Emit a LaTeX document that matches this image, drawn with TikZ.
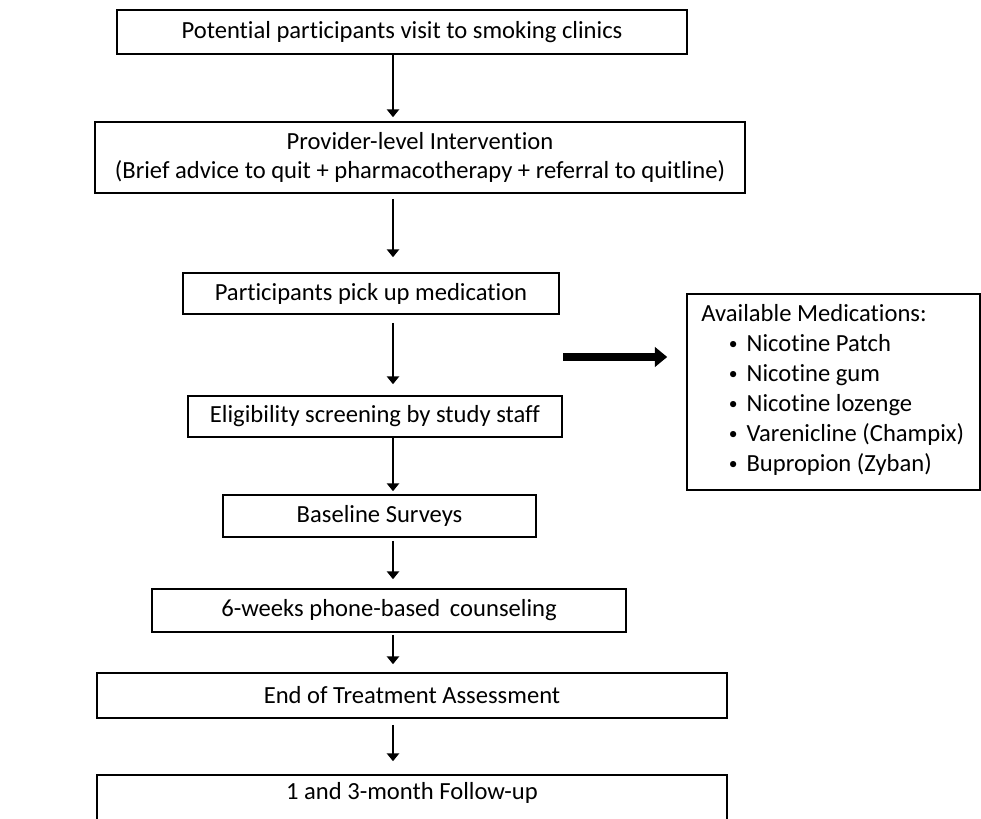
\documentclass[tikz,border=0pt]{standalone}
\usepackage{fontspec}
\setmainfont{Carlito}[Ligatures=NoCommon]
\usetikzlibrary{arrows.meta}

\newcommand{\medbullet}{\hspace*{0.55cm}\raisebox{1.2pt}{\fontsize{10}{10}\selectfont\textbullet}\hspace{0.18cm}}

\begin{document}
\begin{tikzpicture}[font=\fontsize{14}{17}\selectfont,
  stage/.style={rectangle, draw, line width=0.9pt, fill=white, inner sep=0pt, align=center},
  flow/.style={line width=1.7pt, -{Triangle[width=7pt,length=4.5pt]}},
  bigarrow/.style={line width=4.5pt, -{Triangle[width=11pt,length=7pt]}}]

\useasboundingbox (0,0) rectangle (19.62,-16.38);

\node[stage, minimum width=11.4cm, minimum height=0.88cm] (visit) at (8.04,-0.64) {Potential participants visit to smoking clinics};
\node[stage, minimum width=13cm, minimum height=1.42cm] (provider) at (8.4,-3.15) {Provider-level Intervention\\(Brief advice to quit + pharmacotherapy + referral to quitline)};
\node[stage, minimum width=7.52cm, minimum height=0.82cm] (pickup) at (7.42,-5.87) {Participants pick up medication};
\node[stage, minimum width=7.48cm, minimum height=0.82cm] (screen) at (7.5,-8.33) {Eligibility screening by study staff};
\node[stage, minimum width=6.26cm, minimum height=0.84cm] (baseline) at (7.59,-10.32) {Baseline Surveys};
\node[stage, minimum width=9.48cm, minimum height=0.86cm] (counsel) at (7.78,-12.21) {6-weeks phone-based\ \,counseling};
\node[stage, minimum width=12.6cm, minimum height=0.9cm] (eot) at (8.24,-13.91) {End of Treatment Assessment};
\node[stage, minimum width=12.6cm, minimum height=1cm] (follow) at (8.24,-16.0) {};
\node (followtxt) at (8.24,-15.86) {1 and 3-month Follow-up};

% side box with the medication list
\node[stage, minimum width=5.86cm, minimum height=3.92cm] (meds) at (16.67,-7.84) {};
\node[align=left, anchor=west, inner sep=0pt] (medlist) at (14.02,-7.8)
  {Available Medications:\\
   \medbullet Nicotine Patch\\
   \medbullet Nicotine gum\\
   \medbullet Nicotine lozenge\\
   \medbullet Varenicline (Champix)\\
   \medbullet Bupropion (Zyban)};

\coordinate (spine) at (7.86,0);
\coordinate (medsrc) at (11.26,-7.14);

\draw[flow, shorten >=0.08cm] (visit.south -| spine) -- (provider.north -| spine);
\draw[flow, shorten <=0.1cm, shorten >=0.3cm] (provider.south -| spine) -- (pickup.north -| spine);
\draw[flow, shorten <=0.16cm, shorten >=0.22cm] (pickup.south -| spine) -- (screen.north -| spine);
\draw[flow, shorten >=0.06cm] (screen.south -| spine) -- (baseline.north -| spine);
\draw[flow, shorten <=0.06cm, shorten >=0.18cm] (baseline.south -| spine) -- (counsel.north -| spine);
\draw[flow, shorten <=0.04cm, shorten >=0.16cm] (counsel.south -| spine) -- (eot.north -| spine);
\draw[flow, shorten <=0.12cm, shorten >=0.26cm] (eot.south -| spine) -- (follow.north -| spine);
\draw[bigarrow, shorten >=0.38cm] (medsrc) -- (medsrc -| meds.west);

\end{tikzpicture}
\end{document}
